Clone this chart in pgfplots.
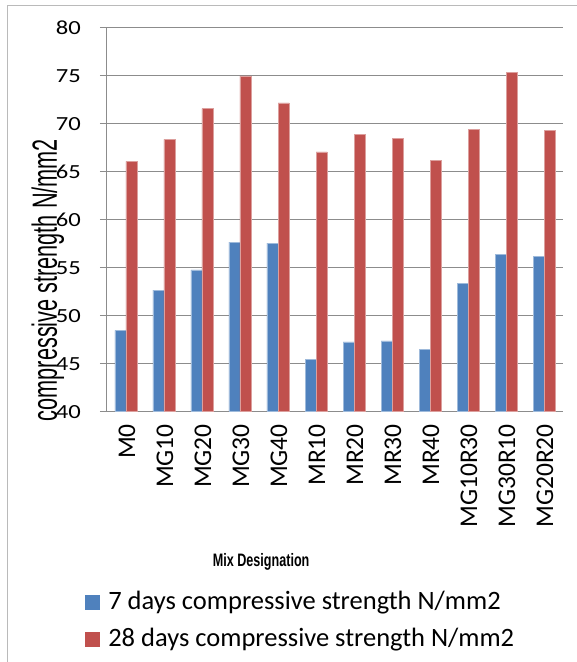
\documentclass[border=0pt]{standalone}
\usepackage{fontspec}
\setmainfont{Carlito}
\newfontfamily\arialfont{Liberation Sans}
\usepackage{pgfplots}
\pgfplotsset{compat=1.18}
\definecolor{cblue}{HTML}{4F81BD}
\definecolor{cred}{HTML}{C0504D}
\definecolor{cgrid}{HTML}{8C8C8C}
\begin{document}
\begin{tikzpicture}
\path[use as bounding box] (0,0) rectangle (577pt,662pt);
\draw[cgrid!60, line width=1pt] (7pt,0) -- (7pt,656pt) -- (577pt,656pt);
\begin{axis}[
  at={(107pt,251pt)}, anchor=south west,
  scale only axis, width=456pt, height=384pt,
  ybar=0pt, bar width=11pt,
  ymin=40, ymax=80, ytick={40,45,...,80},
  xmin=-0.5, xmax=11.5,
  xtick={0,...,11},
  xticklabels={M0,MG10,MG20,MG30,MG40,MR10,MR20,MR30,MR40,MG10R30,MG30R10,MG20R20},
  xticklabel style={rotate=90, anchor=east, inner sep=0pt, xshift=-6pt, yshift=-1pt, font=\fontsize{25.5}{25.5}\selectfont},
  major x tick style={draw=none},
  extra x ticks={-0.5,0.5,...,11.5},
  extra x tick labels={},
  extra x tick style={grid=none, major tick length=7pt, tick align=outside, tick style={draw=cgrid, line width=1pt}},
  axis lines*=left,
  axis line style={cgrid, line width=1pt},
  ymajorgrids, grid style={cgrid, line width=1pt},
  ytick style={draw=cgrid, line width=1pt},
  tick align=outside, major tick length=7pt,
  /pgf/number format/assume math mode=true,
  yticklabel style={inner sep=0pt, xshift=-19pt, yshift=-1pt},
  yticklabel={\fontsize{20}{20}\selectfont\scalebox{1.23}[1]{\pgfmathprintnumber{\tick}}},
  ylabel={\arialfont\scalebox{0.62}[1]{\fontsize{35}{35}\selectfont compressive strength N/mm2}},
  ylabel style={at={(axis description cs:-0.130,0.341)}, anchor=center, rotate=0},
  xlabel={\arialfont\bfseries\scalebox{0.70}[1]{\fontsize{18}{18}\selectfont Mix Designation}},
  xlabel style={at={(axis description cs:0.338,-0.392)}, anchor=center},
  legend style={at={(axis description cs:-0.048,-0.466)}, anchor=north west, draw=none, fill=none,
    font=\fontsize{26.5}{26.5}\selectfont, inner sep=0pt, nodes={inner sep=0pt, text height=19pt, text depth=6pt},
    /tikz/row sep=12pt,
    /tikz/every odd column/.append style={column sep=8pt}},
  legend cell align=left,
  legend image code/.code={\fill[#1, draw=none] (0pt,-7.5pt) rectangle (15pt,7.5pt);},
  clip=false,
]
\addplot[fill=cblue, draw=cblue!55!white, line width=0.5pt] coordinates {
 (0,48.4) (1,52.6) (2,54.7) (3,57.6) (4,57.5) (5,45.4) (6,47.2) (7,47.3) (8,46.4) (9,53.3) (10,56.3) (11,56.1)};
\addplot[fill=cred, draw=cred!55!white, line width=0.5pt] coordinates {
 (0,66.0) (1,68.3) (2,71.5) (3,74.9) (4,72.1) (5,67.0) (6,68.8) (7,68.4) (8,66.1) (9,69.3) (10,75.3) (11,69.2)};
\legend{7 days compressive strength N/mm2, 28 days compressive strength N/mm2}
\end{axis}
\end{tikzpicture}
\end{document}
